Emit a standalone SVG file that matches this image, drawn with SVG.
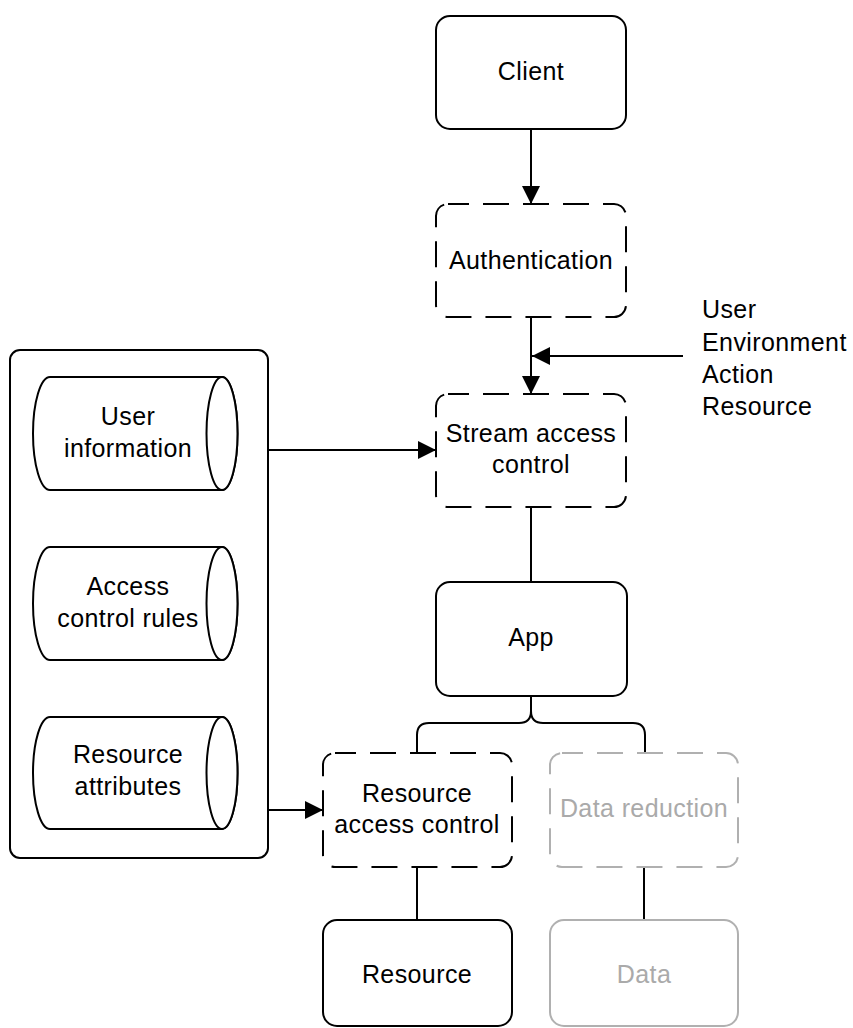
<svg xmlns="http://www.w3.org/2000/svg" width="853" height="1028" viewBox="0 0 853 1028">
<style>
.box{fill:#fff;stroke:#000;stroke-width:2}
.dash{fill:#fff;stroke:#000;stroke-width:2;stroke-dasharray:26 14;stroke-dashoffset:5}
.gdash{fill:#fff;stroke:#b0b0b0;stroke-width:2;stroke-dasharray:26 14;stroke-dashoffset:5}
.gbox{fill:#fff;stroke:#b0b0b0;stroke-width:2}
.cyl{fill:#fff;stroke:#000;stroke-width:2}
.t{font-family:"Liberation Sans",Arial,sans-serif;font-size:25px;letter-spacing:0.4px;fill:#000;text-anchor:middle}
.gt{fill:#aaaaaa}
.l{text-anchor:start}
.c{fill:none;stroke:#000;stroke-width:2}
.a{marker-end:url(#arr)}
</style>
<defs>
<marker id="arr" markerUnits="userSpaceOnUse" markerWidth="18" markerHeight="18" refX="18" refY="9" orient="auto">
<path d="M0,0 L18,9 L0,18 Z" fill="#000"/>
</marker>
</defs>
<g id="container">
<rect class="box" x="10" y="350" width="258" height="508" rx="10"/>
</g>
<g id="user-information">
<path class="cyl" d="M50,377 H222 A15.5,56.5 0 0 1 222,490 H50 A17,56.5 0 0 1 50,377 Z"/>
<ellipse class="cyl" cx="222" cy="433.5" rx="15.5" ry="56.5"/>
<text class="t" x="128" y="425">User</text>
<text class="t" x="128" y="457">information</text>
</g>
<g id="access-control-rules">
<path class="cyl" d="M50,547 H222 A15.5,56.5 0 0 1 222,660 H50 A17,56.5 0 0 1 50,547 Z"/>
<ellipse class="cyl" cx="222" cy="603.5" rx="15.5" ry="56.5"/>
<text class="t" x="128" y="595">Access</text>
<text class="t" x="128" y="627">control rules</text>
</g>
<g id="resource-attributes">
<path class="cyl" d="M50,717 H222 A15.5,56 0 0 1 222,829 H50 A17,56 0 0 1 50,717 Z"/>
<ellipse class="cyl" cx="222" cy="773" rx="15.5" ry="56"/>
<text class="t" x="128" y="763">Resource</text>
<text class="t" x="128" y="795">attributes</text>
</g>
<g id="connectors">
<path class="c a" d="M531,129 V204"/>
<path class="c a" d="M531,317 V394"/>
<path class="c a" d="M683,356 H532"/>
<path class="c a" d="M268,450 H436"/>
<path class="c a" d="M268,750 V810 H323"/>
<path class="c" d="M531,507 V582"/>
<path class="c" d="M531,695 V711 Q531,723 519,723 H429 Q417,723 417,735 V753"/>
<path class="c" d="M531,711 Q531,723 543,723 H633 Q645,723 645,735 V753"/>
<path class="c" d="M417,867 V920"/>
<path class="c" d="M644,867 V920"/>
</g>
<g id="client">
<rect class="box" x="436" y="16" width="190" height="113" rx="14"/>
<text class="t" x="531" y="80">Client</text>
</g>
<g id="authentication">
<rect class="dash" x="436" y="204" width="190" height="113" rx="12"/>
<text class="t" x="531" y="269">Authentication</text>
</g>
<g id="inputs">
<text class="t l" x="702" y="318">User</text>
<text class="t l" x="702" y="351">Environment</text>
<text class="t l" x="702" y="383">Action</text>
<text class="t l" x="702" y="415">Resource</text>
</g>
<g id="stream-access-control">
<rect class="dash" x="436" y="394" width="190" height="113" rx="12"/>
<text class="t" x="531" y="442">Stream access</text>
<text class="t" x="531" y="473">control</text>
</g>
<g id="app">
<rect class="box" x="436" y="582" width="191" height="114" rx="14"/>
<text class="t" x="531" y="646">App</text>
</g>
<g id="resource-access-control">
<rect class="dash" x="323" y="753" width="189" height="114" rx="12"/>
<text class="t" x="417" y="802">Resource</text>
<text class="t" x="417" y="833">access control</text>
</g>
<g id="data-reduction">
<rect class="gdash" x="550" y="753" width="188" height="114" rx="12"/>
<text class="t gt" x="644" y="817">Data reduction</text>
</g>
<g id="resource">
<rect class="box" x="323" y="920" width="189" height="106" rx="14"/>
<text class="t" x="417" y="983">Resource</text>
</g>
<g id="data">
<rect class="gbox" x="550" y="920" width="188" height="106" rx="14"/>
<text class="t gt" x="644" y="983">Data</text>
</g>
</svg>
